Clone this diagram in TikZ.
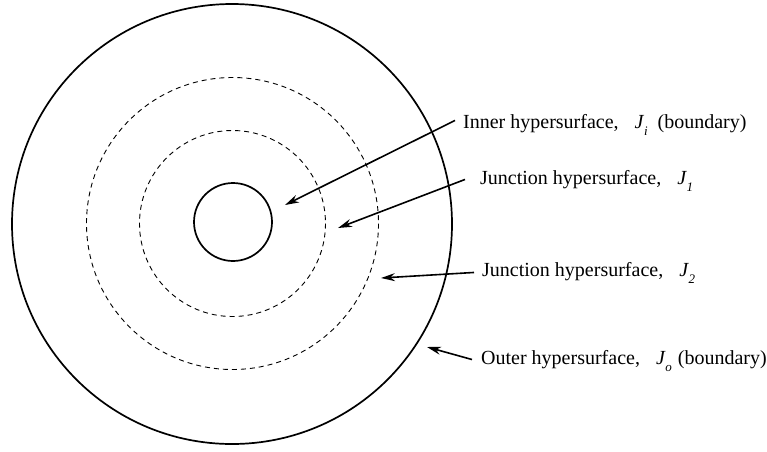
\documentclass[tikz,border=0pt]{standalone}
\usepackage{fontspec}
\setmainfont{Liberation Serif}
\usetikzlibrary{arrows.meta}

% italic symbol J with an italic subscript
\newcommand{\Jsub}[1]{{\itshape J}\kern0.5pt\raisebox{-0.35em}{\fontsize{13}{13}\selectfont\itshape #1}}

\tikzset{
  surface/.style={draw, line width=1.7pt},
  junction/.style={draw, line width=0.9pt, dash pattern=on 5pt off 4pt},
  pointer/.style={line width=1.6pt, -{Stealth[length=14pt,width=8pt]}},
  tag/.style={anchor=base west, inner sep=0pt, font=\fontsize{20}{24}\selectfont}
}

\begin{document}
\begin{tikzpicture}[x=1pt,y=-1pt]
  \useasboundingbox (0,0) rectangle (767,451);

  % nested hypersurfaces
  \draw[surface] (232,224) circle (220);
  \draw[junction] (232.5,223.5) circle (146);
  \draw[junction] (232.5,223.5) circle (93);
  \draw[surface] (233,222) circle (39);

  % arrow targets
  \coordinate (ti) at (285,205);
  \coordinate (t1) at (338,228);
  \coordinate (t2) at (381,278);
  \coordinate (to) at (427,347);

  % labels
  \node[tag] (li) at (463,128) {Inner hypersurface,\hspace{0.8em}\Jsub{i}\hspace{0.5em}(boundary)};
  \node[tag] (l1) at (480,184) {Junction hypersurface,\hspace{0.8em}\Jsub{1}};
  \node[tag] (l2) at (482,276) {Junction hypersurface,\hspace{0.8em}\Jsub{2}};
  \node[tag] (lo) at (481,364) {Outer hypersurface,\hspace{0.8em}\Jsub{o}\hspace{0.3em}(boundary)};

  % pointers
  \draw[pointer] ([xshift=-8pt,yshift=4pt]li.west) -- (ti);
  \draw[pointer] ([xshift=-15pt,yshift=1pt]l1.west) -- (t1);
  \draw[pointer] ([xshift=-8pt,yshift=0pt]l2.west) -- (t2);
  \draw[pointer] ([xshift=-9pt,yshift=1pt]lo.west) -- (to);
\end{tikzpicture}
\end{document}
